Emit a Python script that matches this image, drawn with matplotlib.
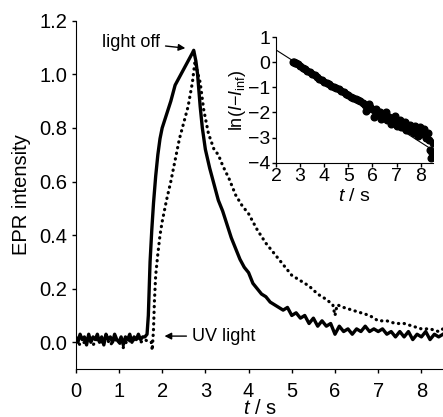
import matplotlib
matplotlib.use("Agg")
import matplotlib.pyplot as plt

plt.rcParams['font.family'] = ['Liberation Sans', 'DejaVu Sans']
plt.rcParams['mathtext.fontset'] = 'custom'
plt.rcParams['mathtext.it'] = 'Liberation Sans:italic'
plt.rcParams['mathtext.rm'] = 'Liberation Sans'

# Solid trace (EPR intensity vs time)
solid_t = [0.0, 0.05, 0.1, 0.15, 0.2, 0.25, 0.3, 0.35, 0.4, 0.45, 0.5, 0.55, 0.6, 0.65,
           0.7, 0.75, 0.8, 0.85, 0.9, 0.95, 1.0, 1.05, 1.1, 1.15, 1.2, 1.25, 1.3, 1.35,
           1.4, 1.45, 1.5, 1.55, 1.6, 1.65, 1.68, 1.72, 1.76, 1.8, 1.85, 1.9, 1.95, 2.0,
           2.1, 2.2, 2.3, 2.4, 2.5, 2.6, 2.7, 2.73, 2.78, 2.82, 2.88, 2.93, 3.0, 3.1,
           3.2, 3.3, 3.4, 3.5, 3.6, 3.7, 3.8, 3.9, 4.0, 4.1, 4.2, 4.3, 4.4, 4.5, 4.6,
           4.7, 4.8, 4.9, 5.0, 5.1, 5.2, 5.3, 5.4, 5.5, 5.6, 5.7, 5.8, 5.9, 6.0, 6.1,
           6.2, 6.3, 6.4, 6.5, 6.6, 6.7, 6.8, 6.9, 7.0, 7.1, 7.2, 7.3, 7.4, 7.5, 7.6,
           7.7, 7.8, 7.9, 8.0, 8.1, 8.2, 8.3, 8.4, 8.5]
solid_v = [0.02, 0.00, 0.03, 0.01, 0.02, -0.01, 0.03, 0.00, 0.02, 0.01, 0.03, 0.00,
           0.02, -0.01, 0.03, 0.01, 0.02, 0.00, 0.03, 0.01, 0.00, 0.02, -0.01, 0.02,
           0.01, 0.03, 0.00, 0.02, 0.01, 0.03, 0.01, 0.02, 0.02, 0.03, 0.10, 0.30,
           0.42, 0.52, 0.62, 0.70, 0.76, 0.80, 0.85, 0.90, 0.96, 0.99, 1.02, 1.05,
           1.08, 1.09, 1.05, 1.00, 0.88, 0.80, 0.72, 0.65, 0.59, 0.53, 0.49, 0.44,
           0.39, 0.35, 0.31, 0.28, 0.26, 0.22, 0.20, 0.18, 0.17, 0.15, 0.14, 0.13,
           0.12, 0.13, 0.10, 0.11, 0.09, 0.10, 0.07, 0.09, 0.06, 0.08, 0.06, 0.07,
           0.03, 0.06, 0.04, 0.05, 0.03, 0.05, 0.04, 0.06, 0.04, 0.05, 0.04, 0.05,
           0.03, 0.04, 0.02, 0.04, 0.02, 0.04, 0.01, 0.03, 0.02, 0.04, 0.01, 0.03,
           0.02, 0.03]

# Dotted trace
dot_t = [0.0, 0.1, 0.2, 0.3, 0.4, 0.5, 0.6, 0.7, 0.8, 0.9, 1.0, 1.1, 1.2, 1.3, 1.4,
         1.5, 1.6, 1.7, 1.75, 1.77, 1.8, 1.82, 1.85, 1.9, 1.95, 2.0, 2.1, 2.2, 2.3,
         2.4, 2.5, 2.6, 2.7, 2.76, 2.8, 2.88, 2.96, 3.07, 3.2, 3.3, 3.4, 3.55, 3.7,
         3.85, 4.0, 4.2, 4.4, 4.6, 4.8, 5.0, 5.2, 5.4, 5.6, 5.8, 5.95, 6.0, 6.05,
         6.2, 6.4, 6.6, 6.8, 7.0, 7.2, 7.4, 7.6, 7.8, 8.0, 8.2, 8.4, 8.5]
dot_v = [0.01, -0.01, 0.00, 0.02, -0.01, 0.01, 0.00, 0.02, -0.01, 0.01, 0.00, -0.02,
         0.01, 0.00, 0.02, 0.00, 0.01, 0.00, 0.00, -0.03, 0.05, 0.15, 0.25, 0.33,
         0.40, 0.45, 0.53, 0.60, 0.68, 0.76, 0.82, 0.88, 0.97, 1.05, 1.02, 0.97,
         0.87, 0.78, 0.72, 0.70, 0.66, 0.61, 0.55, 0.51, 0.48, 0.42, 0.37, 0.33,
         0.29, 0.25, 0.23, 0.21, 0.18, 0.16, 0.14, 0.10, 0.14, 0.13, 0.12, 0.11,
         0.10, 0.08, 0.08, 0.07, 0.07, 0.06, 0.05, 0.05, 0.04, 0.05]

# Inset: ln(I - I_inf) vs t, with linear fit
ins_t = [2.7, 2.75, 2.8, 2.85, 2.9, 3.0, 3.1, 3.2, 3.3, 3.4, 3.5, 3.6, 3.7, 3.8, 3.9,
         4.0, 4.1, 4.2, 4.3, 4.4, 4.5, 4.6, 4.7, 4.8, 4.9, 5.0, 5.1, 5.2, 5.3, 5.4,
         5.5, 5.6, 5.7, 5.75, 5.8, 5.85, 5.9, 6.0, 6.05, 6.1, 6.15, 6.2, 6.3, 6.35,
         6.4, 6.5, 6.55, 6.6, 6.7, 6.75, 6.8, 6.9, 6.95, 7.0, 7.1, 7.15, 7.2, 7.3,
         7.35, 7.4, 7.5, 7.55, 7.6, 7.7, 7.75, 7.8, 7.9, 7.95, 8.0, 8.1, 8.15, 8.2,
         8.3, 8.35, 8.4, 8.42, 8.45, 8.5]
ins_v = [0.02, 0.00, -0.02, -0.05, -0.08, -0.15, -0.22, -0.28, -0.34, -0.40, -0.46,
         -0.52, -0.58, -0.66, -0.72, -0.78, -0.83, -0.88, -0.93, -0.98, -1.03, -1.08,
         -1.14, -1.20, -1.26, -1.32, -1.38, -1.42, -1.48, -1.52, -1.56, -1.62, -1.70,
         -1.95, -1.75, -1.65, -1.80, -1.88, -2.20, -1.95, -1.85, -2.05, -2.00, -2.25,
         -2.15, -2.10, -1.98, -2.30, -2.20, -2.45, -2.40, -2.35, -2.15, -2.55, -2.45,
         -2.30, -2.60, -2.50, -2.40, -2.70, -2.60, -2.50, -2.75, -2.80, -2.55, -2.70,
         -2.95, -2.60, -2.75, -2.85, -2.65, -3.00, -2.80, -3.10, -3.50, -3.80, -3.60,
         -3.20]
fit_t = [2.0, 8.5]
fit_v = [0.49, -3.50]

fig = plt.figure(figsize=(4.43, 4.17), dpi=100)
ax = fig.add_axes([0.171, 0.115, 0.829, 0.835])

ax.plot(solid_t, solid_v, color='black', lw=2.4, solid_joinstyle='round')
ax.plot(dot_t, dot_v, color='black', lw=2.3, linestyle=(0, (0.1, 1.7)),
        dash_capstyle='round')

ax.set_xlim(0, 8.5)
ax.set_ylim(-0.1, 1.2)
ax.set_xticks(range(0, 9))
ax.set_yticks([0.0, 0.2, 0.4, 0.6, 0.8, 1.0, 1.2])
ax.set_yticklabels(['0.0', '0.2', '0.4', '0.6', '0.8', '1.0', '1.2'])
ax.spines['top'].set_visible(False)
ax.spines['right'].set_visible(False)
ax.tick_params(direction='out', length=3, width=1, labelsize=14.5, pad=6)
ax.tick_params(axis='y', pad=3)
ax.set_ylabel('EPR intensity', fontsize=14.5, labelpad=6)
ax.set_xlabel('$t$ / s', fontsize=14.5, labelpad=-1)

ax.annotate('light off', xy=(2.6, 1.097), xytext=(1.95, 1.12),
            fontsize=13, ha='right', va='center',
            arrowprops=dict(arrowstyle='-|>', color='black', lw=1, mutation_scale=10))
ax.annotate('UV light', xy=(1.99, 0.023), xytext=(2.69, 0.023),
            fontsize=13, ha='left', va='center',
            arrowprops=dict(arrowstyle='-|>', color='black', lw=1, mutation_scale=10))

# inset
ins = fig.add_axes([0.623, 0.610, 0.354, 0.301])
ins.plot(fit_t, fit_v, color='black', lw=0.8)
ins.plot(ins_t, ins_v, 'o', color='black', ms=4.8)
ins.set_xlim(2, 8.5)
ins.set_ylim(-4, 1)
ins.set_xticks(range(2, 9))
ins.set_yticks(range(-4, 2))
ins.set_yticklabels(['\u22124', '\u22123', '\u22122', '\u22121', '0', '1'])
ins.spines['top'].set_visible(False)
ins.spines['right'].set_visible(False)
ins.tick_params(direction='out', length=3, width=1, labelsize=14, pad=1)
ins.set_xlabel('$t$ / s', fontsize=14, labelpad=2)
ins.set_ylabel('ln($I$\u2212$I$$_{\\mathrm{inf}}$)', fontsize=13, labelpad=0)

fig.savefig('out.png', dpi=100)
